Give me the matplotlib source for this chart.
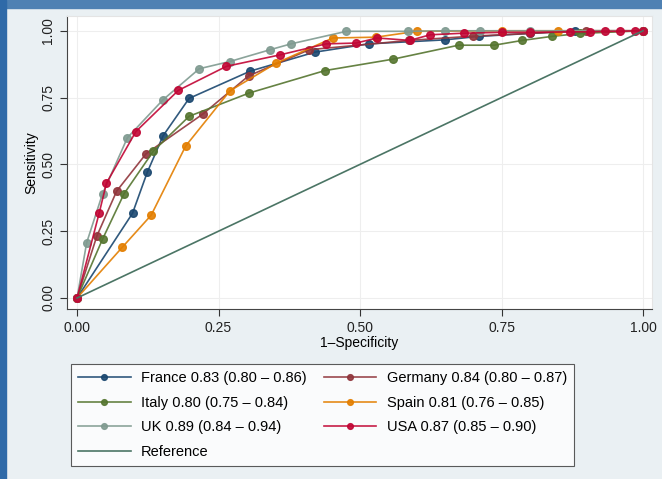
import matplotlib
matplotlib.use('Agg')
import matplotlib.pyplot as plt
from matplotlib.patches import Rectangle

plt.rcParams['font.family'] = ['Liberation Sans', 'DejaVu Sans']

# ROC points (1-specificity, sensitivity)
france_x = [0, 0.098, 0.124, 0.152, 0.198, 0.306, 0.42, 0.515, 0.65, 0.71, 0.80, 0.88, 1.0]
france_y = [0, 0.317, 0.47, 0.607, 0.747, 0.849, 0.92, 0.951, 0.966, 0.979, 0.99, 1.0, 1.0]

germany_x = [0, 0.035, 0.07, 0.122, 0.222, 0.303, 0.41, 0.587, 0.70, 0.80, 0.90, 1.0]
germany_y = [0, 0.232, 0.40, 0.54, 0.688, 0.831, 0.929, 0.964, 0.98, 0.99, 1.0, 1.0]

italy_x = [0, 0.045, 0.083, 0.135, 0.198, 0.304, 0.438, 0.559, 0.674, 0.737, 0.787, 0.839, 0.889, 1.0]
italy_y = [0, 0.22, 0.39, 0.55, 0.68, 0.767, 0.851, 0.894, 0.946, 0.946, 0.964, 0.979, 0.99, 1.0]

spain_x = [0, 0.08, 0.131, 0.192, 0.27, 0.352, 0.452, 0.528, 0.6, 0.75, 0.85, 1.0]
spain_y = [0, 0.19, 0.31, 0.569, 0.775, 0.879, 0.973, 0.976, 0.998, 1.0, 1.0, 1.0]

uk_x = [0, 0.017, 0.045, 0.089, 0.152, 0.216, 0.27, 0.341, 0.378, 0.476, 0.585, 0.65, 0.712, 0.8, 1.0]
uk_y = [0, 0.207, 0.39, 0.60, 0.742, 0.858, 0.885, 0.929, 0.951, 0.998, 0.998, 1.0, 1.0, 1.0, 1.0]

usa_x = [0, 0.039, 0.052, 0.104, 0.179, 0.264, 0.359, 0.44, 0.493, 0.53, 0.588, 0.624, 0.683,
         0.75, 0.80, 0.871, 0.906, 0.933, 0.959, 0.986, 1.0]
usa_y = [0, 0.317, 0.43, 0.623, 0.777, 0.867, 0.91, 0.951, 0.954, 0.973, 0.964, 0.985, 0.991,
         0.994, 0.994, 0.996, 0.996, 0.998, 0.998, 1.0, 1.0]

labels = ['France 0.83 (0.80 \u2013 0.86)', 'Germany 0.84 (0.80 \u2013 0.87)',
          'Italy 0.80 (0.75 \u2013 0.84)', 'Spain 0.81 (0.76 \u2013 0.85)',
          'UK 0.89 (0.84 \u2013 0.94)', 'USA 0.87 (0.85 \u2013 0.90)']
colors = ['#1a476f', '#90353b', '#55752f', '#e37e00', '#7f9a90', '#c10534']
ticks = [0, 0.25, 0.5, 0.75, 1.0]
tick_labels = ['0.00', '0.25', '0.50', '0.75', '1.00']

xs = [france_x, germany_x, italy_x, spain_x, uk_x, usa_x]
ys = [france_y, germany_y, italy_y, spain_y, uk_y, usa_y]

fig = plt.figure(figsize=(6.62, 4.79), dpi=100)
fig.patch.set_facecolor('#eaf0f3')
# blue frame strips (top and left)
fig.patches.append(Rectangle((0, 1 - 8/479), 1, 8/479, transform=fig.transFigure,
                             color='#4f81b3', zorder=0))
fig.patches.append(Rectangle((0, 0), 6/662, 1, transform=fig.transFigure,
                             color='#2f6aa8', zorder=0))

ax = fig.add_axes([0.101, 0.355, 0.884, 0.612])
ax.set_facecolor('white')

handles = {}
for x, y, c, lab in zip(xs, ys, colors, labels):
    h, = ax.plot(x, y, '-o', color=c, lw=1.2, ms=5.5, alpha=0.9, label=lab)
    handles[lab] = h
ref, = ax.plot([0, 1], [0, 1], color='#4b7565', lw=1.2, label='Reference')

ax.set_xlim(-0.018, 1.016)
ax.set_ylim(-0.041, 1.056)
ax.set_xticks(ticks)
ax.set_xticklabels(tick_labels, fontsize=10)
ax.set_yticks(ticks)
ax.set_yticklabels(tick_labels, fontsize=10, rotation=90, va='center')
ax.grid(True, color='#eeeeee', lw=0.8)
ax.set_axisbelow(True)
ax.tick_params(direction='out', length=5, color='#333333', labelcolor='#222222')
for s in ['top', 'right']:
    ax.spines[s].set_color('#e4e4e4')
for s in ['left', 'bottom']:
    ax.spines[s].set_color('#444444')
ax.set_xlabel('1\u2013Specificity', fontsize=10, labelpad=1)
ax.set_ylabel('Sensitivity', fontsize=10, labelpad=2)

order = [labels[0], labels[2], labels[4], 'Reference', labels[1], labels[3], labels[5]]
hs = [handles.get(l, ref) for l in order]
leg = fig.legend(hs, order, loc='upper left', bbox_to_anchor=(0.107, 0.240), ncol=2,
                 fontsize=10.5, handlelength=3.6, columnspacing=1.2, handletextpad=0.7,
                 labelspacing=0.72, frameon=True, fancybox=False, borderpad=0.5,
                 borderaxespad=0, markerscale=0.75)
leg.get_frame().set_edgecolor('#333333')
leg.get_frame().set_facecolor('white')
leg.get_frame().set_linewidth(0.8)

fig.savefig('out.png', dpi=100, facecolor=fig.get_facecolor())
